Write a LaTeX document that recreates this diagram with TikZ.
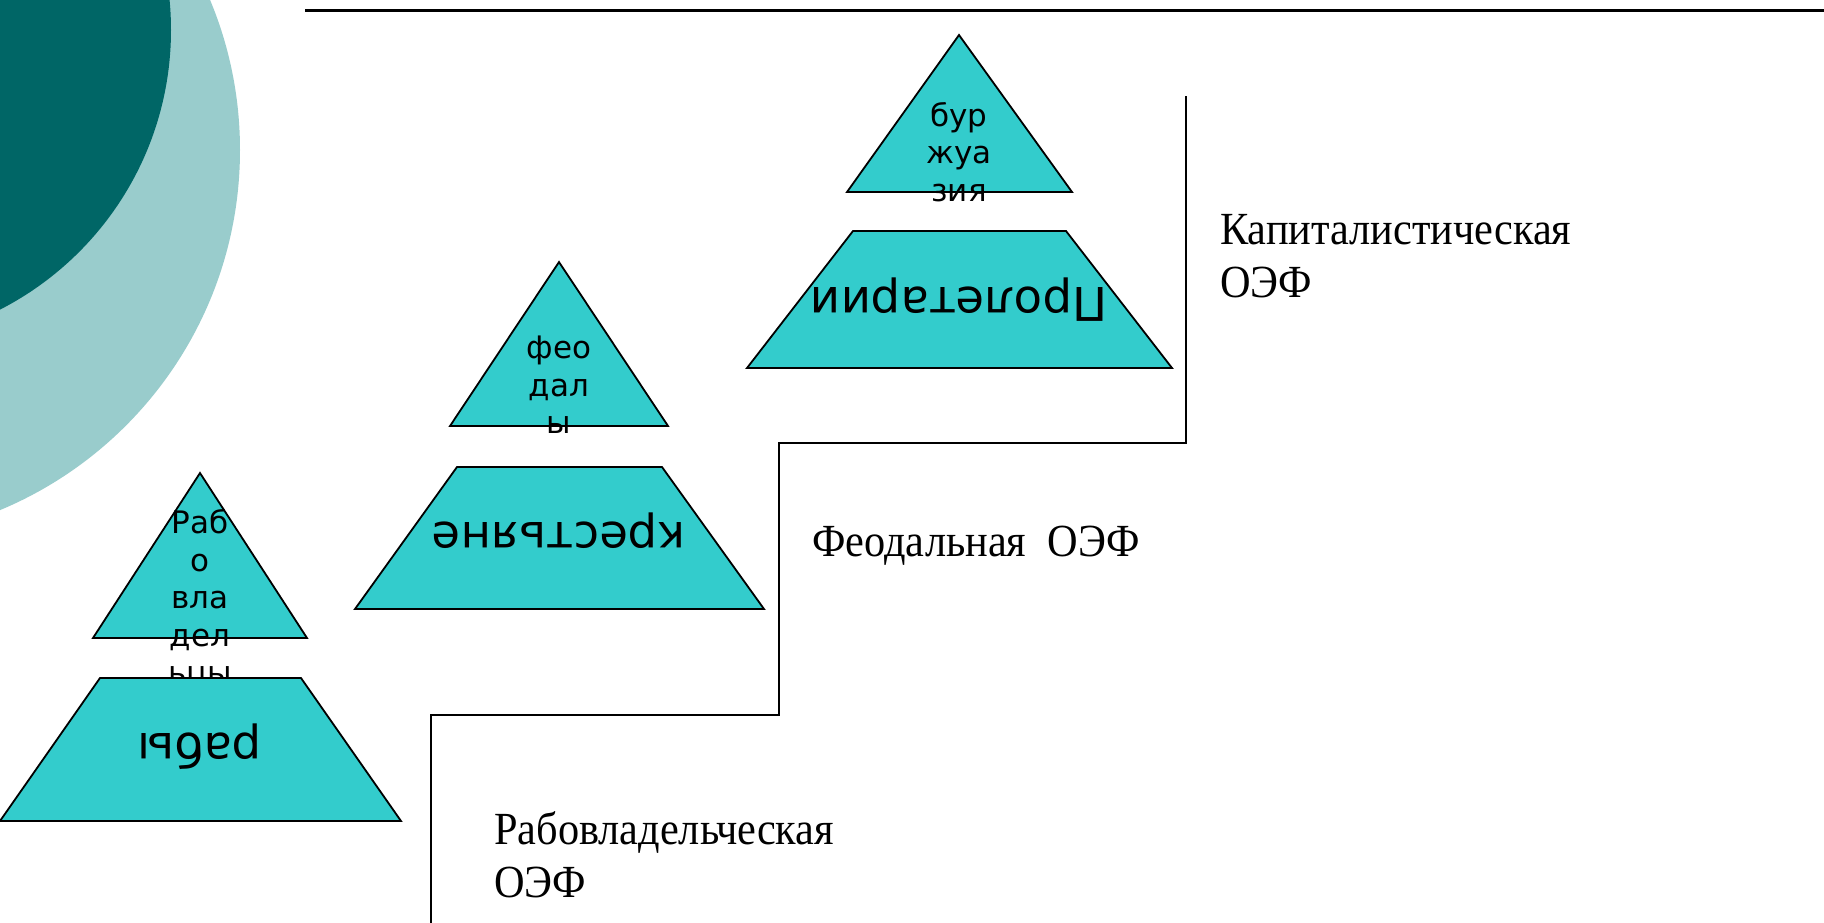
\documentclass[tikz,border=0pt]{standalone}
\usepackage{fontspec}
\newfontfamily\djv{DejaVu Sans}
\newfontfamily\tms[FakeStretch=0.92]{Liberation Serif}
\definecolor{turq}{RGB}{51,204,204}
\definecolor{darkteal}{RGB}{0,102,102}
\definecolor{lightteal}{RGB}{153,204,204}
\begin{document}
\begin{tikzpicture}[x=1pt,y=-1pt,
  shp/.style={fill=turq,draw=black,line width=1.8pt,line join=miter},
  small/.style={font=\djv\fontsize{31}{37.5}\selectfont,align=center,inner sep=0pt},
  big/.style={font=\djv\fontsize{46.5}{56}\selectfont,rotate=180,inner sep=0pt},
  lab/.style={font=\tms\fontsize{46}{53}\selectfont,align=left,inner sep=0pt},
  stair/.style={line width=2.2pt}]
\useasboundingbox (0,0) rectangle (1824,922);
\fill[white] (0,0) rectangle (1824,922);
\begin{scope}
  \clip (0,0) rectangle (1824,922);
  \fill[lightteal] (-150,150) circle[radius=390pt];
  \fill[darkteal] (-143,30) circle[radius=314pt];
\end{scope}
% top rule
\draw[line width=3pt] (305,10) -- (1824,10);
% staircase
\draw[stair] (1186,96) -- (1186,443) -- (779,443) -- (779,715) -- (431,715) -- (431,925);
% pyramid 1
\filldraw[shp] (200,473) -- (307,638) -- (93,638) -- cycle;
\node[small] (t1) at (200,599) {Раб\\о\\вла\\дел\\ьцы};
\filldraw[shp] (100,678) -- (301,678) -- (401,821) -- (0,821) -- cycle;
\node[big] (r1) at (200,747) {рабы};
% pyramid 2
\filldraw[shp] (559,262) -- (668,426) -- (450,426) -- cycle;
\node[small] (t2) at (559,385) {фео\\дал\\ы};
\filldraw[shp] (457,467) -- (662,467) -- (764,609) -- (355,609) -- cycle;
\node[big] (r2) at (559,531) {крестьяне};
% pyramid 3
\filldraw[shp] (959,35) -- (1072,192) -- (847,192) -- cycle;
\node[small] (t3) at (959,152) {бур\\жуа\\зия};
\filldraw[shp] (853,231) -- (1066,231) -- (1172,368) -- (747,368) -- cycle;
\node[big] (r3) at (959,300) {Пролетарии};
% labels
\node[lab,anchor=north west] (l3) at (1220,214) {Капиталистическая\\ОЭФ};
\node[lab,anchor=base west] (l2) at (812,556) {Феодальная\ \ ОЭФ};
\node[lab,anchor=north west] (l1) at (494,811) {Рабовладельческая\\ОЭФ};
\end{tikzpicture}
\end{document}
